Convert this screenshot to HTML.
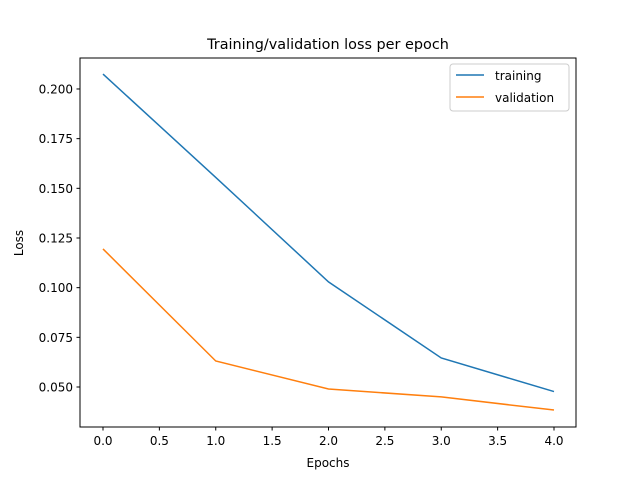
<!DOCTYPE html>
<html><head><meta charset="utf-8"><style>
body{margin:0;background:#fff;}
svg text{font-family:"DejaVu Sans","Liberation Sans",sans-serif;fill:#000;}
</style></head><body>
<svg id="chart" width="640" height="480" xmlns="http://www.w3.org/2000/svg">
<rect width="640" height="480" fill="#fff"/>
<text x="328" y="49" font-size="14.4" text-anchor="middle">Training/validation loss per epoch</text>
<g id="plot"></g>
<rect x="80" y="58" width="496" height="369" fill="none" stroke="#000" stroke-width="1"/>
<text x="328" y="467" font-size="12" text-anchor="middle">Epochs</text>
<text x="0" y="0" font-size="12" text-anchor="middle" transform="translate(23,243) rotate(-90)">Loss</text>
<g>
<rect x="450" y="64" width="119" height="47" fill="#fff" stroke="#ccc" rx="3"/>
<line x1="456" y1="75" x2="484" y2="75" stroke="#1f77b4" stroke-width="1.5"/>
<text x="495" y="80" font-size="12">training</text>
<line x1="456" y1="97" x2="484" y2="97" stroke="#ff7f0e" stroke-width="1.5"/>
<text x="495" y="102" font-size="12">validation</text>
</g>
</svg>
<script>
const epochs = [0, 1, 2, 3, 4];
const training = [0.2075, 0.1555, 0.1029, 0.0646, 0.0477];
const validation = [0.1195, 0.0631, 0.049, 0.045, 0.0384];
const xTicks = [0, 0.5, 1, 1.5, 2, 2.5, 3, 3.5, 4];
const yTicks = [0.05, 0.075, 0.1, 0.125, 0.15, 0.175, 0.2];
const NS = "http://www.w3.org/2000/svg";
const g = document.getElementById('plot');
function xs(v){ return 103 + v * 112.75; }
function ys(v){ return 387 - (v - 0.05) / 0.025 * 49.67; }
function mk(tag, attrs){ const e = document.createElementNS(NS, tag); for (const k in attrs) e.setAttribute(k, attrs[k]); g.appendChild(e); return e; }
xTicks.forEach(t => {
  const l = mk('line', {x1: xs(t), x2: xs(t), y1: 427, y2: 430.5, stroke: '#000'});
  
  
  const tx = mk('text', {x: xs(t), y: 445, 'font-size': 12, 'text-anchor': 'middle'});
  tx.textContent = t.toFixed(1);
  
  
});
yTicks.forEach(t => {
  const l = mk('line', {x1: 76.5, x2: 80, y1: ys(t), y2: ys(t), stroke: '#000'});
  
  
  const tx = mk('text', {x: 73, y: ys(t) + 4.5, 'font-size': 12, 'text-anchor': 'end'});
  tx.textContent = t.toFixed(3);
  
  
});
function line(vals, color, name){
  const p = mk('polyline', {points: vals.map((v, i) => xs(epochs[i]) + ',' + ys(v)).join(' '), fill: 'none', stroke: color, 'stroke-width': 1.5});
  
  
}
line(training, '#1f77b4', 'training-line');
line(validation, '#ff7f0e', 'validation-line');
</script>
</body></html>
